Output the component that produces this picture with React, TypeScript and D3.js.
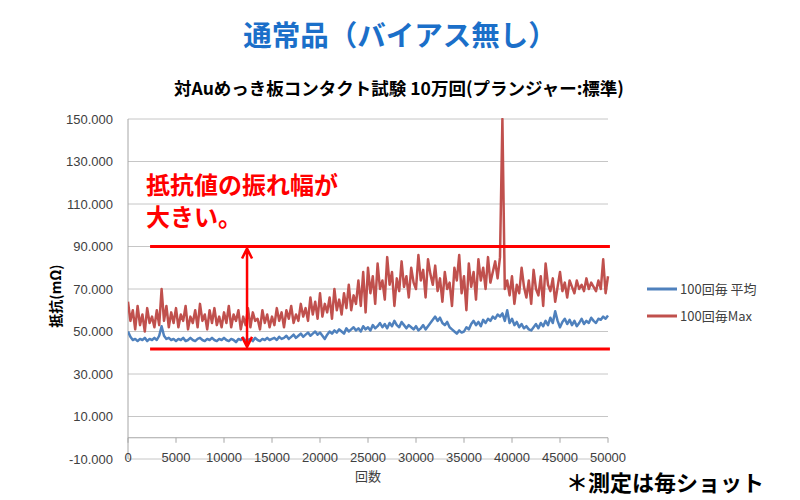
import React, { useEffect, useRef } from "react";
import * as d3 from "d3";

const W = 800, H = 500;

// shots per point: 250
const step = 250;
const yTicks = [150, 130, 110, 90, 70, 50, 30, 10, -10];
const xTicks = [0, 5000, 10000, 15000, 20000, 25000, 30000, 35000, 40000, 45000, 50000];

const maxVals = [
  64, 55, 60, 51, 62, 53, 58, 50, 61, 54, 57, 52, 60, 53, 70, 55, 62, 52, 59, 54,
  61, 52, 58, 55, 62, 51, 57, 54, 60, 52, 63, 55, 58, 51, 60, 54, 61, 53, 57, 52,
  59, 54, 62, 52, 58, 55, 60, 51, 57, 53, 61, 52, 59, 55, 56, 51, 60, 54, 58, 52,
  57, 53, 61, 55, 59, 52, 60, 56, 62, 54, 58, 55, 63, 57, 61, 55, 66, 58, 64, 56,
  68, 57, 63, 59, 66, 56, 70, 60, 65, 58, 68, 61, 72, 60, 67, 63, 74, 62, 78, 59,
  80, 68, 76, 63, 82, 70, 74, 65, 85, 72, 78, 62, 75, 69, 83, 71, 76, 66, 80, 73,
  70, 86, 74, 79, 66, 84, 77, 72, 81, 69, 75, 64, 78, 70, 73, 62, 80, 74, 86, 68,
  76, 60, 82, 71, 78, 65, 84, 74, 80, 70, 85, 73, 78, 83, 75, 85, 150, 70, 74, 67,
  76, 63, 72, 68, 80, 71, 66, 74, 63, 79, 70, 67, 76, 62, 82, 72, 69, 75, 64, 71,
  78, 69, 73, 66, 74, 71, 68, 74, 70, 72, 69, 75, 70, 73, 71, 69, 74, 70, 84, 68,
  76,
];

const avgVals = [
  50, 47.5, 46, 46.5, 45.5, 46.5, 46, 47, 45.5, 46.5, 46, 47, 46, 48, 52.5, 48, 46.5, 47, 46, 46.5,
  45.5, 46.5, 46, 47, 45.5, 46, 47, 46, 45.5, 46.5, 47, 46, 45.5, 46.5, 46, 47, 46, 45.5, 46.5, 46,
  47, 46, 45.5, 46.5, 46, 45, 46.5, 46, 47, 45.5, 46, 46.5, 45.5, 47, 46, 45.5, 46.5, 46, 47, 46,
  46.5, 47, 46, 47.5, 46.5, 47, 48, 46.5, 47.5, 48.5, 47, 48, 49, 47.5, 48.5, 49.5, 48, 49, 50, 48.5,
  49.5, 48, 46.5, 48.5, 50, 49, 50.5, 49.5, 51, 50, 49, 51.5, 50, 51, 52, 50.5, 51.5, 50, 52.5, 51,
  52, 50.5, 53, 51.5, 52.5, 54, 52, 53.5, 51.5, 54, 52.5, 55, 53, 52, 54.5, 53, 51.5, 53, 52, 51,
  52.5, 50.5, 51.5, 53, 51, 52.5, 54, 55.5, 57, 55, 56.5, 54, 53, 54.5, 52, 51, 50, 49, 50.5, 49.5,
  50, 52, 51, 53.5, 55, 53, 54.5, 52.5, 55.5, 54, 56, 55, 57, 56, 58, 57, 58.5, 55, 60, 54,
  56, 53, 54.5, 52, 53.5, 51.5, 52.5, 51, 50.5, 52, 53.5, 51.5, 54, 52.5, 55, 53, 56.5, 54, 59.5, 55,
  52, 54.5, 56, 53.5, 55.5, 53, 55, 52.5, 54, 56, 53.5, 55, 54, 56.5, 55, 54, 56, 55.5, 57, 56,
  57.5,
];

const seriesNames = ["100回毎 平均", "100回毎Max"];
const seriesColors = ["#4f81bd", "#c0504d"];

// annotation: range band (mΩ) and shot extent
const bandLevels = [90, 41.8];
const bandShots = [2300, 50200];
const arrowShot = 12400;

export default function App() {
  const ref = useRef<SVGSVGElement>(null);

  useEffect(() => {
    const svg = d3.select(ref.current);
    svg.selectAll("*").remove();

    const x = d3.scaleLinear().domain([0, 50000]).range([128, 608]);
    const y = d3.scaleLinear().domain([-10, 150]).range([459, 119]);
    const fmt = d3.formatLocale({ decimal: ".", thousands: ",", grouping: [3], currency: ["", ""], minus: "-" }).format(".3f");
    const tickFont = "'Liberation Sans', Arial, sans-serif";
    const jp = "'Noto Sans CJK JP', sans-serif";

    svg.append("defs").append("clipPath").attr("id", "plot")
      .append("rect").attr("x", 128).attr("y", 118).attr("width", 482).attr("height", 342);

    // gridlines
    svg.append("g").selectAll("line").data(yTicks).join("line")
      .attr("x1", 128).attr("x2", 608)
      .attr("y1", d => y(d)).attr("y2", d => y(d))
      .attr("stroke", "#c6c6c6").attr("stroke-width", 1);

    // vertical axis
    svg.append("line").attr("x1", 128).attr("x2", 128).attr("y1", y(150)).attr("y2", y(-10))
      .attr("stroke", "#a6a6a6");
    // horizontal axis at zero
    svg.append("line").attr("x1", 128).attr("x2", 608).attr("y1", y(0)).attr("y2", y(0))
      .attr("stroke", "#a6a6a6");
    svg.append("g").selectAll("line").data(xTicks).join("line")
      .attr("x1", d => x(d)).attr("x2", d => x(d))
      .attr("y1", y(0)).attr("y2", y(0) + 5)
      .attr("stroke", "#a6a6a6");

    svg.append("g").attr("font-family", tickFont).attr("font-size", 13).attr("fill", "#404040")
      .selectAll("text").data(yTicks).join("text")
      .attr("x", 113).attr("y", d => y(d)).attr("dy", "0.35em")
      .attr("text-anchor", "end").text(d => fmt(d));

    svg.append("g").attr("font-family", tickFont).attr("font-size", 13).attr("fill", "#404040")
      .selectAll("text").data(xTicks).join("text")
      .attr("x", d => x(d)).attr("y", 457).attr("dy", "0.35em")
      .attr("text-anchor", "middle").text(d => d);

    // series
    const line = d3.line<number>().x((_, i) => x(i * step)).y(d => y(d));
    const g = svg.append("g").attr("clip-path", "url(#plot)");
    [avgVals, maxVals].forEach((vals, i) => {
      g.append("path").attr("d", line(vals))
        .attr("fill", "none").attr("stroke", seriesColors[i])
        .attr("stroke-width", 2.5).attr("stroke-linejoin", "round");
    });

    // annotation
    const red = "#ff0000";
    svg.append("g").selectAll("line").data(bandLevels).join("line")
      .attr("x1", x(bandShots[0])).attr("x2", x(bandShots[1]))
      .attr("y1", d => y(d)).attr("y2", d => y(d))
      .attr("stroke", red).attr("stroke-width", 3);
    const ax = x(arrowShot), yt = y(bandLevels[0]) + 2, yb = y(bandLevels[1]) - 2;
    svg.append("path")
      .attr("d", `M${ax},${yt}V${yb}M${ax - 5},${yt + 10}L${ax},${yt}L${ax + 5},${yt + 10}M${ax - 5},${yb - 10}L${ax},${yb}L${ax + 5},${yb - 10}`)
      .attr("fill", "none").attr("stroke", red).attr("stroke-width", 2.5);
    const note = svg.append("text").attr("font-family", jp).attr("font-weight", "bold")
      .attr("font-size", 24).attr("fill", red);
    note.append("tspan").attr("x", 146).attr("y", 194).text("抵抗値の振れ幅が");
    note.append("tspan").attr("x", 146).attr("y", 226).text("大きい。");

    // legend
    const lg = svg.append("g").selectAll("g").data(seriesNames).join("g")
      .attr("transform", (_, i) => `translate(647,${289 + i * 27})`);
    lg.append("line").attr("x1", 0).attr("x2", 30)
      .attr("stroke", (_, i) => seriesColors[i]).attr("stroke-width", 3);
    lg.append("text").attr("x", 33).attr("dy", "0.35em")
      .attr("font-family", jp).attr("font-size", 13).attr("fill", "#404040").text(d => d);

    // titles
    svg.append("text").attr("x", 400).attr("y", 46).attr("text-anchor", "middle")
      .attr("font-family", jp).attr("font-weight", "bold").attr("font-size", 28.5)
      .attr("fill", "#1b6fc9").text("通常品（バイアス無し）");
    svg.append("text").attr("x", 399).attr("y", 95).attr("text-anchor", "middle")
      .attr("font-family", jp).attr("font-weight", "bold").attr("font-size", 17.5)
      .attr("fill", "#000").text("対Auめっき板コンタクト試験 10万回(プランジャー:標準)");
    svg.append("text").attr("transform", "translate(61,296) rotate(-90)")
      .attr("text-anchor", "middle").attr("font-family", jp).attr("font-weight", "bold")
      .attr("font-size", 14).text("抵抗(mΩ)");
    svg.append("text").attr("x", 368).attr("y", 481).attr("text-anchor", "middle")
      .attr("font-family", jp).attr("font-size", 13).attr("fill", "#404040").text("回数");
    svg.append("text").attr("x", 566).attr("y", 491)
      .attr("font-family", jp).attr("font-weight", "bold").attr("font-size", 22)
      .attr("fill", "#000").text("＊測定は毎ショット");
  }, []);

  return (
    <svg ref={ref} width={W} height={H}
      style={{ position: "absolute", left: 0, top: 0, background: "#fff" }} />
  );
}
